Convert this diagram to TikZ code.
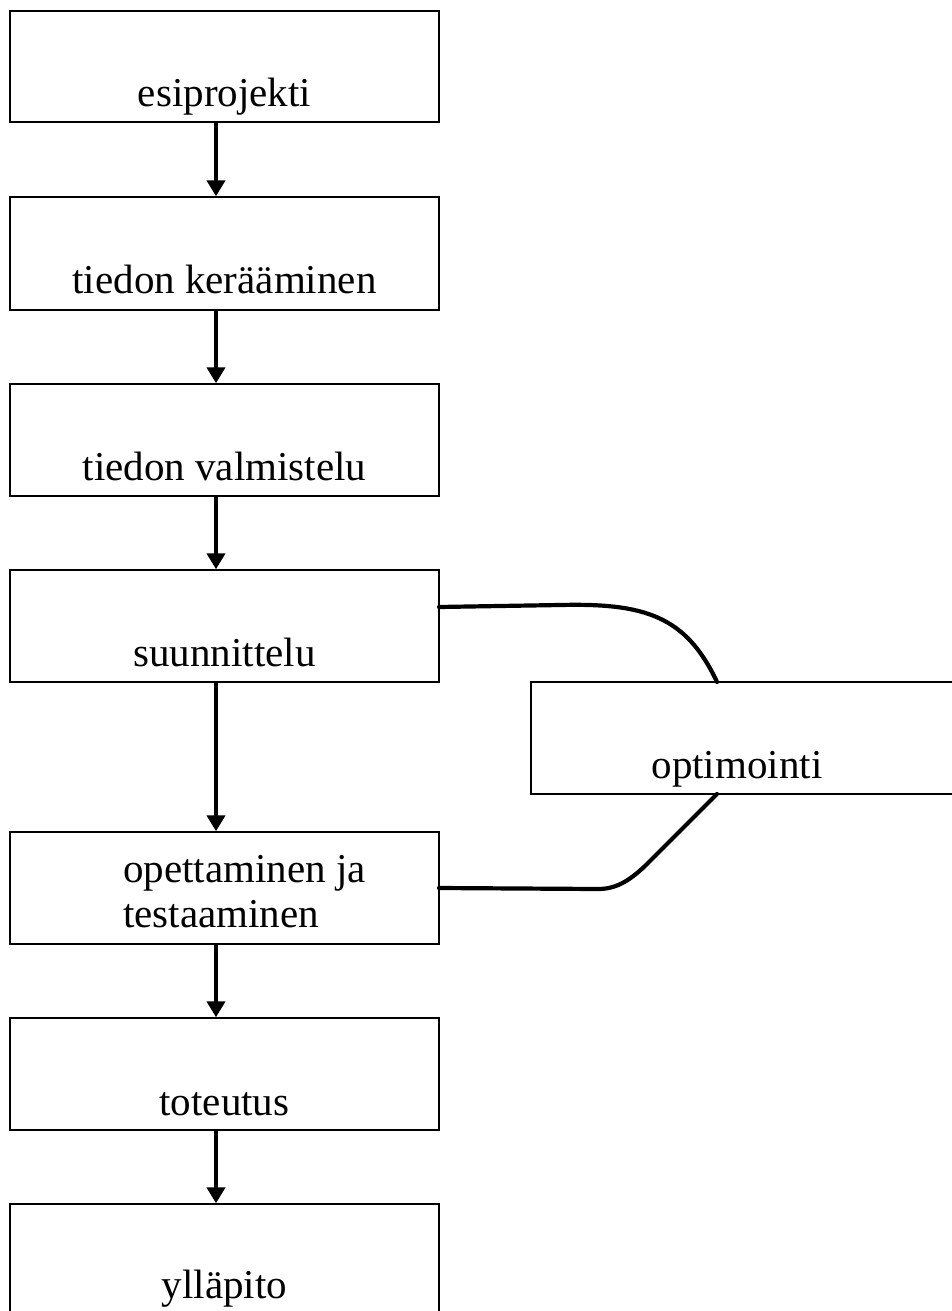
\documentclass[tikz,border=0pt]{standalone}
\usepackage{fontspec}
\setmainfont{Liberation Serif}
\usetikzlibrary{arrows.meta,calc}
\begin{document}
\begin{tikzpicture}[x=1pt,y=-1pt,
  stage/.style={draw=black,line width=1.3pt,minimum width=429pt,minimum height=112pt,inner sep=0pt,outer sep=0pt},
  lbl/.style={anchor=base,inner sep=0pt,font=\fontsize{41}{45}\selectfont},
  flow/.style={line width=4.2pt,-{Triangle[width=18pt,length=16pt]},shorten >=0.7pt},
  loop/.style={line width=4.2pt,line cap=round,line join=round}]
\useasboundingbox (0,0) rectangle (952,1311);
\clip (0,0) rectangle (952,1311);
\fill[white] (0,0) rectangle (952,1311);
% boxes
\node[stage,minimum height=111pt] (b1) at (224.5,66.5) {};
\node[stage,minimum height=113pt] (b2) at (224.5,253.5) {};
\node[stage] (b3) at (224.5,440) {};
\node[stage] (b4) at (224.5,626) {};
\node[stage] (b5) at (224.5,888) {};
\node[stage] (b6) at (224.5,1074) {};
\node[stage] (b7) at (224.5,1260) {};
\node[stage] (opt) at (745.5,738) {};
% texts
\node[lbl] (t1) at ([yshift=15pt]b1.south) {esiprojekti};
\node[lbl] (t2) at ([yshift=17pt]b2.south) {tiedon kerääminen};
\node[lbl] (t3) at ([yshift=16pt]b3.south) {tiedon valmistelu};
\node[lbl] (t4) at ([yshift=16pt]b4.south) {suunnittelu};
\node[lbl,anchor=base west,align=left] (t5) at (123,927) {opettaminen ja\\testaaminen};
\node[lbl] (t6) at ([yshift=15pt]b6.south) {toteutus};
\node[lbl] (t7) at ([yshift=18pt]b7.south) {ylläpito};
\node[lbl] (topt) at (737,778) {optimointi};
% arrows
\draw[flow] ([xshift=-8.5pt]b1.south) -- ([xshift=-8.5pt]b2.north);
\draw[flow] ([xshift=-8.5pt]b2.south) -- ([xshift=-8.5pt]b3.north);
\draw[flow] ([xshift=-8.5pt]b3.south) -- ([xshift=-8.5pt]b4.north);
\draw[flow] ([xshift=-8.5pt]b4.south) -- ([xshift=-8.5pt]b5.north);
\draw[flow] ([xshift=-8.5pt]b5.south) -- ([xshift=-8.5pt]b6.north);
\draw[flow] ([xshift=-8.5pt]b6.south) -- ([xshift=-8.5pt]b7.north);
% optimisation loop
\coordinate (ot) at ([xshift=186pt]opt.north west);
\coordinate (ob) at ([xshift=186pt]opt.south west);
\draw[loop] ([yshift=-37pt]b4.north east) -- (560,605)
  .. controls (645,603) and (686,616) .. (ot);
\draw[loop] ([yshift=-56pt]b5.north east) -- (598,889)
  .. controls (615,889) and (628,882) .. (645,866) -- (ob);
\end{tikzpicture}
\end{document}
